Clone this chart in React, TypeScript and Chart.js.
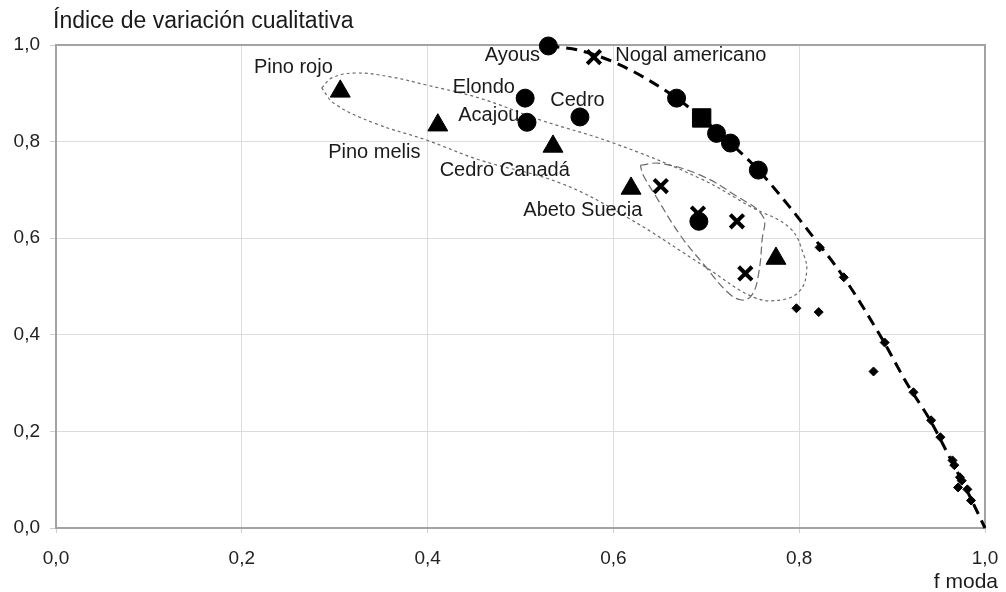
import React, { useEffect, useRef } from "react";
import { Chart, registerables } from "chart.js";

Chart.register(...registerables);

// ---- data (x = f moda, y = índice de variación cualitativa) ----
const circles: [number, number][] = [
  [0.530, 0.998], [0.505, 0.890], [0.507, 0.840], [0.564, 0.851],
  [0.668, 0.890], [0.711, 0.817], [0.726, 0.797], [0.756, 0.741],
  [0.692, 0.635],
];
const squares: [number, number][] = [[0.695, 0.849]];
const triangles: [number, number][] = [
  [0.306, 0.904], [0.411, 0.834], [0.535, 0.790], [0.619, 0.703], [0.775, 0.558],
];
const crosses: [number, number][] = [
  [0.579, 0.975], [0.651, 0.708], [0.691, 0.651], [0.733, 0.635], [0.742, 0.527],
];
const smallPoints: [number, number][] = [
  [0.797, 0.455], [0.821, 0.447], [0.822, 0.581], [0.848, 0.519], [0.880, 0.324],
  [0.892, 0.384], [0.923, 0.281], [0.942, 0.223], [0.952, 0.188], [0.965, 0.140],
  [0.967, 0.130], [0.973, 0.105], [0.975, 0.098], [0.971, 0.084], [0.981, 0.080],
  [0.985, 0.057],
];
const curve: [number, number][] = [
  [0.530, 0.998], [0.561, 0.990], [0.607, 0.959], [0.668, 0.890], [0.695, 0.849],
  [0.726, 0.797], [0.756, 0.741], [0.790, 0.664], [0.812, 0.610], [0.848, 0.519],
  [0.890, 0.389], [0.916, 0.299], [0.941, 0.223], [0.962, 0.146], [0.982, 0.072],
  [1.0, 0.0],
];
const outlineSoft: [number, number][] = [
  [0.286, 0.911], [0.297, 0.932], [0.322, 0.942], [0.360, 0.934], [0.399, 0.917],
  [0.456, 0.890], [0.521, 0.845], [0.600, 0.797], [0.693, 0.724], [0.749, 0.664],
  [0.790, 0.621], [0.805, 0.565], [0.808, 0.530], [0.801, 0.492], [0.783, 0.473],
  [0.752, 0.477], [0.701, 0.538], [0.615, 0.643], [0.543, 0.714], [0.456, 0.762],
  [0.399, 0.803], [0.343, 0.838], [0.300, 0.878], [0.286, 0.911],
];
const outlineCross: [number, number][] = [
  [0.629, 0.751], [0.650, 0.755], [0.693, 0.731], [0.731, 0.689], [0.761, 0.645],
  [0.760, 0.596], [0.756, 0.523], [0.749, 0.482], [0.738, 0.472], [0.723, 0.488],
  [0.698, 0.544], [0.672, 0.606], [0.645, 0.689], [0.632, 0.731], [0.629, 0.751],
];
const labelTexts = [
  "Ayous", "Nogal americano", "Pino rojo", "Elondo", "Acajou", "Cedro",
  "Pino melis", "Cedro Canadá", "Abeto Suecia",
];
const labelX = [0.521, 0.602, 0.213, 0.427, 0.433, 0.532, 0.293, 0.413, 0.503];
const labelY = [0.979, 0.979, 0.954, 0.913, 0.855, 0.886, 0.778, 0.741, 0.658];
const labelAlign = ["right", "left", "left", "left", "left", "left", "left", "left", "left"];
const tickValues = [0, 0.2, 0.4, 0.6, 0.8, 1.0];
const yTitle = "Índice de variación cualitativa";
const xTitle = "f moda";

const FONT = "'Liberation Sans', Arial, sans-serif";
const pts = (a: [number, number][]) => a.map(([x, y]) => ({ x, y }));
const fmt = (v: number) => v.toFixed(1).replace(".", ",");

const frame = {
  id: "frame",
  beforeDatasetsDraw(chart: any) {
    const { ctx, chartArea: a } = chart;
    ctx.save();
    ctx.strokeStyle = "#a3a3a3";
    ctx.lineWidth = 2;
    ctx.strokeRect(a.left, a.top, a.right - a.left, a.bottom - a.top);
    ctx.restore();
  },
  afterDatasetsDraw(chart: any) {
    const { ctx, chartArea: a, scales } = chart;
    ctx.save();
    ctx.fillStyle = "#1a1a1a";
    ctx.font = `20px ${FONT}`;
    ctx.textBaseline = "middle";
    labelTexts.forEach((t, i) => {
      ctx.textAlign = labelAlign[i] as CanvasTextAlign;
      ctx.fillText(t, scales.x.getPixelForValue(labelX[i]), scales.y.getPixelForValue(labelY[i]));
    });
    ctx.textBaseline = "alphabetic";
    ctx.textAlign = "left";
    ctx.font = `23px ${FONT}`;
    ctx.fillText(yTitle, a.left - 3, 28);
    ctx.textAlign = "right";
    ctx.font = `21px ${FONT}`;
    ctx.fillText(xTitle, chart.width - 8, 588);
    ctx.restore();
  },
};

export default function App() {
  const ref = useRef<HTMLCanvasElement>(null);
  useEffect(() => {
    if (!ref.current) return;
    const common = { clip: false as any };
    const chart = new Chart(ref.current, {
      type: "scatter",
      data: {
        datasets: [
          { ...common, label: "c", data: pts(circles), order: 0, pointStyle: "circle", pointRadius: 9, borderWidth: 1, backgroundColor: "#000", borderColor: "#000" },
          { ...common, label: "s", data: pts(squares), order: 1, pointStyle: "rect", pointRadius: 13, borderWidth: 1, backgroundColor: "#000", borderColor: "#000" },
          { ...common, label: "t", data: pts(triangles), order: 2, pointStyle: "triangle", pointRadius: 11.5, borderWidth: 1, backgroundColor: "#000", borderColor: "#000" },
          { ...common, label: "x", data: pts(crosses), order: 3, pointStyle: "crossRot", pointRadius: 9.5, borderWidth: 4, backgroundColor: "#000", borderColor: "#000" },
          { ...common, label: "d", data: pts(smallPoints), order: 4, pointStyle: "rectRot", pointRadius: 4.5, borderWidth: 1, backgroundColor: "#000", borderColor: "#000" },
          { ...common, label: "curve", data: pts(curve), order: 5, showLine: true, pointRadius: 0, borderColor: "#000", borderWidth: 3, borderDash: [11, 7], cubicInterpolationMode: "monotone" },
          { ...common, label: "e1", data: pts(outlineSoft), order: 6, showLine: true, pointRadius: 0, borderColor: "#6a6a6a", borderWidth: 1.2, borderDash: [3, 3], tension: 0.4 },
          { ...common, label: "e2", data: pts(outlineCross), order: 7, showLine: true, pointRadius: 0, borderColor: "#6a6a6a", borderWidth: 1.2, borderDash: [8, 4], tension: 0.4 },
        ] as any,
      },
      options: {
        animation: false,
        responsive: false,
        events: [],
        layout: { padding: { top: 45, right: 21, left: 0, bottom: 0 } },
        plugins: { legend: { display: false }, tooltip: { enabled: false } },
        scales: {
          x: {
            type: "linear", min: 0, max: 1,
            afterBuildTicks: (s: any) => { s.ticks = tickValues.map((v) => ({ value: v })); },
            afterFit: (s: any) => { s.height = 64; s.paddingLeft = 0; s.paddingRight = 0; },
            ticks: { callback: (v: any) => fmt(Number(v)), font: { family: FONT, size: 19 }, color: "#222", padding: 14, maxRotation: 0 },
            grid: { color: "#dcdcdc", lineWidth: 1, tickLength: 5, tickColor: "#cfcfcf" },
            border: { display: false },
          },
          y: {
            type: "linear", min: 0, max: 1,
            afterBuildTicks: (s: any) => { s.ticks = tickValues.map((v) => ({ value: v })); },
            afterFit: (s: any) => { s.width = 56; s.paddingTop = 0; s.paddingBottom = 0; },
            ticks: { callback: (v: any) => fmt(Number(v)), font: { family: FONT, size: 19 }, color: "#222", padding: 10 },
            grid: { color: "#dcdcdc", lineWidth: 1, tickLength: 6, tickColor: "#cfcfcf" },
            border: { display: false },
          },
        },
      } as any,
      plugins: [frame],
    });
    return () => chart.destroy();
  }, []);
  return (
    <div style={{ position: "absolute", left: 0, top: 0, width: 1006, height: 592, background: "#fff" }}>
      <canvas ref={ref} width={1006} height={592} style={{ display: "block" }} />
    </div>
  );
}
